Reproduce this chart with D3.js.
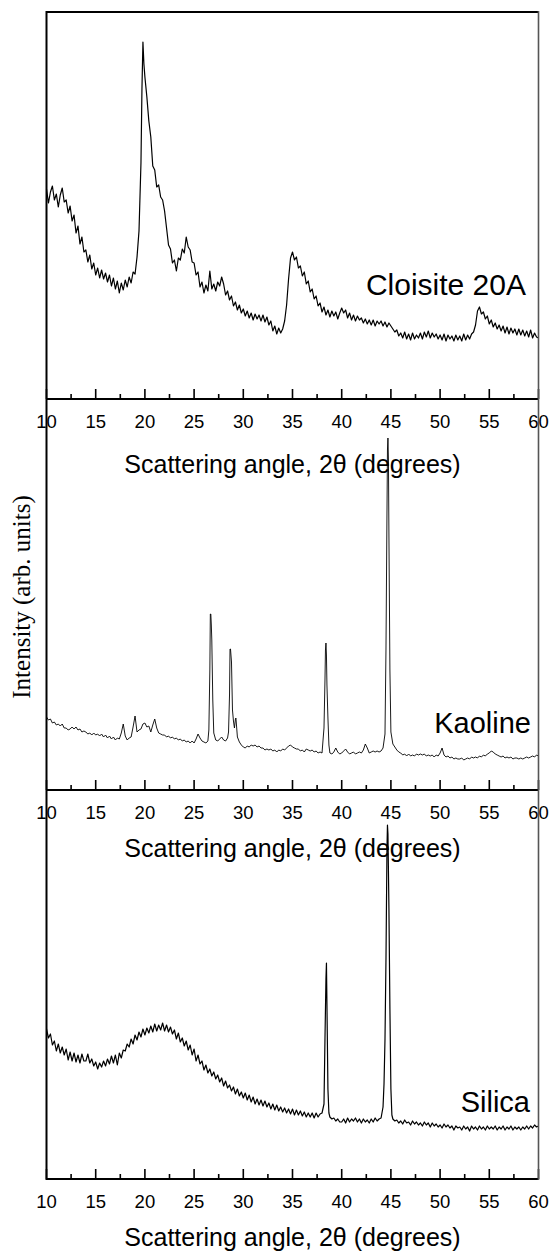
<!DOCTYPE html>
<html>
<head>
<meta charset="utf-8">
<script src="https://cdn.jsdelivr.net/npm/d3@7"></script>
<style>
  body { margin: 0; background: #fff; }
  svg { display: block; }
  text { font-family: "Liberation Sans", Arial, sans-serif; fill: #000; }
</style>
</head>
<body>
<div id="chart"></div>
<script>
// 2-theta grid: 10 to 60 degrees, 0.2 degree step
const angleStart = 10, angleStep = 0.2;

// Cloisite 20A intensities (a.u.) on the grid
const cloisite = [
  210, 196, 207, 213, 199, 205, 192, 204, 211, 197,
  199, 186, 193, 178, 184, 166, 173, 155, 162, 147,
  149, 137, 144, 130, 136, 124, 131, 121, 129, 120,
  126, 117, 124, 113, 121, 110, 118, 106, 116, 109,
  119, 112, 122, 116, 127, 125, 142, 168, 236, 357,
  322, 302, 278, 262, 233, 229, 212, 214, 202, 199,
  188, 171, 154, 150, 136, 139, 128, 141, 139, 150,
  146, 162, 152, 149, 137, 136, 124, 127, 112, 117,
  106, 114, 108, 128, 110, 115, 108, 117, 113, 122,
  115, 104, 108, 99, 103, 93, 97, 89, 94, 86,
  90, 83, 88, 81, 86, 79, 85, 80, 84, 78,
  84, 77, 82, 74, 78, 68, 73, 65, 71, 66,
  70, 78, 94, 120, 141, 147, 139, 142, 131, 133,
  123, 127, 115, 118, 107, 110, 100, 103, 93, 96,
  87, 92, 84, 89, 82, 88, 83, 87, 80, 86,
  91, 86, 89, 81, 86, 79, 84, 78, 83, 79,
  81, 76, 80, 75, 79, 74, 79, 73, 78, 75,
  78, 73, 77, 72, 76, 73, 70, 67, 69, 63,
  66, 61, 67, 60, 65, 59, 66, 60, 64, 61,
  66, 60, 67, 62, 68, 61, 66, 62, 65, 60,
  64, 59, 65, 58, 64, 60, 63, 58, 64, 59,
  63, 58, 65, 59, 64, 60, 65, 67, 74, 88,
  92, 85, 87, 80, 83, 75, 79, 72, 76, 70,
  74, 68, 73, 66, 72, 65, 71, 66, 70, 64,
  70, 64, 69, 63, 68, 62, 69, 61, 66, 62,
  61
];
const cloisitePeaks = [[19.7, 310], [19.9, 335]];

// Kaoline intensities (a.u.) on the grid
const kaoline = [
  73, 70, 71, 67, 68, 65, 66, 64, 66, 62,
  62, 60, 61, 63, 61, 63, 60, 61, 58, 59,
  58, 56, 57, 55, 57, 55, 56, 54, 56, 53,
  55, 52, 54, 51, 53, 50, 52, 51, 57, 66,
  54, 50, 52, 53, 63, 74, 58, 60, 61, 66,
  67, 63, 64, 58, 65, 71, 62, 57, 56, 55,
  55, 53, 54, 52, 53, 51, 52, 50, 51, 49,
  50, 48, 49, 47, 49, 47, 51, 56, 52, 49,
  48, 47, 49, 120, 150, 57, 50, 49, 51, 53,
  50, 49, 52, 95, 128, 69, 71, 53, 48, 45,
  43, 42, 44, 43, 45, 44, 45, 43, 44, 42,
  42, 40, 41, 40, 41, 39, 40, 38, 40, 39,
  41, 40, 42, 44, 45, 43, 42, 41, 41, 39,
  40, 38, 41, 40, 39, 40, 38, 39, 37, 38,
  37, 62, 147, 72, 37, 36, 38, 42, 38, 36,
  37, 39, 41, 38, 36, 37, 38, 36, 37, 38,
  37, 40, 46, 42, 37, 38, 39, 38, 39, 38,
  39, 42, 56, 276, 255, 58, 46, 43, 40, 38,
  37, 35, 36, 34, 36, 34, 35, 34, 36, 35,
  36, 35, 36, 34, 35, 34, 35, 33, 35, 34,
  37, 42, 35, 33, 34, 32, 33, 31, 32, 31,
  31, 32, 30, 31, 32, 31, 33, 32, 33, 32,
  34, 33, 35, 34, 36, 37, 39, 38, 36, 35,
  34, 33, 34, 32, 33, 32, 33, 31, 32, 32,
  31, 32, 31, 32, 33, 32, 33, 34, 33, 35,
  34
];
const kaolinePeaks = [
  [26.5, 60], [26.65, 176], [26.7, 176], [26.75, 165], [26.9, 90],
  [28.5, 58], [28.65, 141], [28.7, 141], [28.9, 80], [29.1, 62], [29.25, 72],
  [38.3, 110], [38.35, 140], [38.45, 135], [38.5, 105], [38.7, 45],
  [44.5, 140], [44.65, 340], [44.7, 352], [44.75, 330], [44.9, 120]
];

// Silica intensities (a.u.) on the grid
const silica = [
  150, 141, 145, 134, 138, 128, 135, 126, 132, 124,
  130, 119, 127, 118, 126, 117, 124, 116, 125, 118,
  118, 125, 116, 120, 113, 117, 110, 116, 112, 118,
  113, 120, 115, 123, 116, 124, 114, 126, 121, 129,
  128, 135, 132, 140, 135, 144, 139, 147, 142, 150,
  144, 151, 146, 153, 147, 155, 148, 154, 149, 156,
  148, 154, 147, 152, 145, 149, 140, 146, 137, 141,
  133, 138, 129, 134, 124, 130, 118, 124, 115, 118,
  109, 114, 106, 110, 103, 107, 100, 104, 97, 101,
  93, 98, 91, 94, 88, 92, 85, 90, 83, 87,
  81, 86, 79, 84, 77, 82, 75, 80, 74, 79,
  73, 78, 72, 76, 70, 75, 69, 74, 68, 72,
  67, 71, 66, 70, 65, 70, 64, 69, 64, 68,
  63, 67, 62, 66, 62, 66, 61, 66, 62, 65,
  66, 75, 200, 90, 62, 60, 61, 58, 60, 57,
  57, 60, 56, 61, 57, 60, 58, 61, 57, 60,
  56, 60, 57, 59, 56, 60, 57, 61, 58, 60,
  61, 72, 140, 330, 270, 90, 60, 58, 59, 56,
  58, 55, 59, 56, 57, 54, 58, 55, 57, 54,
  56, 53, 57, 54, 56, 52, 56, 53, 55, 52,
  54, 51, 55, 52, 54, 51, 53, 49, 53, 51,
  52, 49, 53, 50, 52, 48, 53, 50, 52, 49,
  53, 50, 52, 49, 53, 50, 52, 50, 53, 49,
  52, 50, 53, 49, 52, 50, 53, 49, 52, 50,
  52, 49, 52, 50, 53, 50, 53, 51, 54, 52,
  53
];
const silicaPeaks = [
  [38.3, 140], [38.45, 216], [38.5, 175], [38.7, 66],
  [44.3, 95], [44.5, 220], [44.65, 354], [44.7, 345], [44.9, 170], [45.1, 64]
];

const sampleNames = ["Cloisite 20A", "Kaoline", "Silica"];
const majorTicks = [10, 15, 20, 25, 30, 35, 40, 45, 50, 55, 60];
const minorTicks = [12.5, 17.5, 22.5, 27.5, 32.5, 37.5, 42.5, 47.5, 52.5, 57.5];
const xTitle = "Scattering angle, 2\u03b8 (degrees)";
const yTitle = "Intensity (arb. units)";

const width = 552, height = 1253;
const plotLeft = 46.5, plotRight = 538.5, plotTop = 12;
const axisYs = [399, 790, 1179];
const titleYs = [473, 857, 1246];
const labelYs = [295, 733, 1112];
const labelEnds = [526, 531, 530];
const labelSizes = [30, 29, 29];

function series(grid, peaks) {
  const pts = grid.map((v, i) => [angleStart + i * angleStep, v]);
  return pts.concat(peaks).sort((a, b) => a[0] - b[0]);
}
const data = [series(cloisite, cloisitePeaks), series(kaoline, kaolinePeaks), series(silica, silicaPeaks)];

const svg = d3.select('#chart').append('svg')
  .attr('width', width)
  .attr('height', height);

const x = d3.scaleLinear().domain([10, 60]).range([plotLeft, plotRight]);

data.forEach((d, i) => {
  const base = axisYs[i];
  const y = d3.scaleLinear().domain([0, 400]).range([base, base - 400]);

  const line = d3.line()
    .x(p => x(p[0]))
    .y(p => y(p[1]));

  svg.append('path')
    .datum(d)
    .attr('d', line)
    .attr('fill', 'none')
    .attr('stroke', '#000')
    .attr('stroke-width', i === 1 ? 0.9 : 1.2)
    .attr('stroke-linejoin', 'round');

  // bottom axis with inward ticks
  const g = svg.append('g').attr('transform', `translate(0,${base})`);
  g.append('line')
    .attr('x1', plotLeft).attr('x2', plotRight)
    .attr('stroke', '#000').attr('stroke-width', 2);
  g.selectAll('.major').data(majorTicks).enter().append('line')
    .attr('x1', x).attr('x2', x).attr('y1', 0).attr('y2', -10)
    .attr('stroke', '#000').attr('stroke-width', 1.6);
  g.selectAll('.minor').data(minorTicks).enter().append('line')
    .attr('x1', x).attr('x2', x).attr('y1', 0).attr('y2', -5)
    .attr('stroke', '#000').attr('stroke-width', 1.6);
  g.selectAll('.tl').data(majorTicks).enter().append('text')
    .attr('x', x).attr('y', 29)
    .attr('text-anchor', 'middle')
    .style('font-size', '18.5px')
    .text(t => t);

  svg.append('text')
    .attr('x', (plotLeft + plotRight) / 2).attr('y', titleYs[i])
    .attr('text-anchor', 'middle')
    .style('font-size', '25px')
    .text(xTitle);

  svg.append('text')
    .attr('x', labelEnds[i]).attr('y', labelYs[i])
    .attr('text-anchor', 'end')
    .style('font-size', labelSizes[i] + 'px')
    .text(sampleNames[i]);
});

// frame: top edge, left axis, right edge
svg.append('line')
  .attr('x1', plotLeft).attr('x2', plotRight).attr('y1', plotTop).attr('y2', plotTop)
  .attr('stroke', '#000').attr('stroke-width', 2);
svg.append('line')
  .attr('x1', plotLeft).attr('x2', plotLeft).attr('y1', plotTop - 1).attr('y2', axisYs[2] + 1)
  .attr('stroke', '#000').attr('stroke-width', 2);
svg.append('line')
  .attr('x1', plotRight).attr('x2', plotRight).attr('y1', plotTop - 1).attr('y2', axisYs[2] + 1)
  .attr('stroke', '#555').attr('stroke-width', 1.6);

svg.append('text')
  .attr('transform', `translate(30,597) rotate(-90)`)
  .attr('text-anchor', 'middle')
  .style('font-family', '"Liberation Serif", "Times New Roman", serif')
  .style('font-size', '25px')
  .text(yTitle);
</script>
</body>
</html>
